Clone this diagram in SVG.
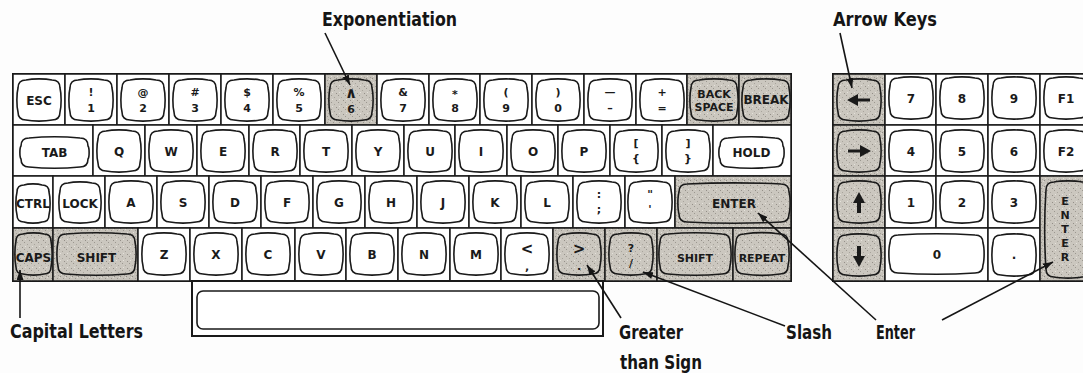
<svg xmlns="http://www.w3.org/2000/svg" xmlns:xlink="http://www.w3.org/1999/xlink" width="1083" height="373" viewBox="0 0 1083 373">
<style>
.cell{fill:#fff;stroke:#1a1a1a;stroke-width:1.5}
.sh{fill:url(#tex)}
.cap{fill:none;stroke:#1a1a1a;stroke-width:1.6}
.capsh{fill:url(#tex2);stroke:#1a1a1a;stroke-width:1.6}
.k{font-family:"DejaVu Sans",sans-serif;font-weight:bold;font-size:12px;text-anchor:middle;fill:#1a1a1a}
.s{font-size:11px}
.b{font-size:15px}
.lbl{font-family:"DejaVu Sans Condensed","DejaVu Sans",sans-serif;font-weight:bold;font-size:19px;fill:#151515}
.lead{stroke:#151515;stroke-width:1.6;fill:none;marker-end:url(#ah)}
.gly{fill:#1a1a1a}
</style>
<defs>
<pattern id="tex" width="6" height="6" patternUnits="userSpaceOnUse">
<rect width="6" height="6" fill="#c6c2ba"/>
<rect x="0" y="0" width="1" height="1" fill="#8f8b84"/>
<rect x="3" y="2" width="1" height="1" fill="#9a968e"/>
<rect x="1" y="4" width="1" height="1" fill="#e2dfd8"/>
<rect x="4" y="5" width="1" height="1" fill="#a39f97"/>
<rect x="5" y="1" width="1" height="1" fill="#dedbd3"/>
</pattern>
<pattern id="tex2" width="7" height="7" patternUnits="userSpaceOnUse">
<rect width="7" height="7" fill="#cbc7bf"/>
<rect x="1" y="1" width="1" height="1" fill="#9b978f"/>
<rect x="4" y="3" width="1" height="1" fill="#a8a49c"/>
<rect x="2" y="5" width="1" height="1" fill="#e4e1da"/>
<rect x="6" y="6" width="1" height="1" fill="#948f88"/>
</pattern>
<marker id="ah" viewBox="0 0 10 7" refX="10" refY="3.5" markerWidth="10" markerHeight="7" markerUnits="userSpaceOnUse" orient="auto">
<path d="M0,0 L10,3.5 L0,7 Z" fill="#151515"/>
</marker>
<path id="c" d="M8,0 C14.7,-1.5 27.3,-1.5 34,0 Q42,0 42,8 C43.5,14 43.5,26 42,32 Q42,40 34,40 C27.3,41.5 14.7,41.5 8,40 Q0,40 0,32 C-1.5,26 -1.5,14 0,8 Q0,0 8,0Z"/>
<path id="c46" d="M8,0 C16.1,-1.5 29.9,-1.5 38,0 Q46,0 46,8 C47.5,14 47.5,26 46,32 Q46,40 38,40 C29.9,41.5 16.1,41.5 8,40 Q0,40 0,32 C-1.5,26 -1.5,14 0,8 Q0,0 8,0Z"/>
<path id="ctab" d="M8,0 C23.5,-1.5 43.5,-1.5 59,0 Q67,0 67,8 C68.5,10 68.5,19 67,21 Q67,29 59,29 C43.5,30.5 23.5,30.5 8,29 Q0,29 0,21 C-1.5,19 -1.5,10 0,8 Q0,0 8,0Z"/>
<path id="chold" d="M8,0 C22,-1.5 41,-1.5 55,0 Q63,0 63,8 C64.5,10 64.5,19 63,21 Q63,29 55,29 C41,30.5 22,30.5 8,29 Q0,29 0,21 C-1.5,19 -1.5,10 0,8 Q0,0 8,0Z"/>
<path id="cctrl" d="M7,0 C11,-1.5 21,-1.5 25,0 Q32,0 32,7 C33.5,13 33.5,24 32,30 Q32,37 25,37 C21,38.5 11,38.5 7,37 Q0,37 0,30 C-1.5,24 -1.5,13 0,7 Q0,0 7,0Z"/>
<path id="clock" d="M8,0 C14,-1.5 26,-1.5 32,0 Q40,0 40,8 C41.5,14 41.5,25 40,31 Q40,39 32,39 C26,40.5 14,40.5 8,39 Q0,39 0,31 C-1.5,25 -1.5,14 0,8 Q0,0 8,0Z"/>
<path id="center" d="M8,0 C38,-1.5 72,-1.5 102,0 Q110,0 110,8 C111.5,13 111.5,25 110,30 Q110,38 102,38 C72,39.5 38,39.5 8,38 Q0,38 0,30 C-1.5,25 -1.5,13 0,8 Q0,0 8,0Z"/>
<path id="ccaps" d="M7,0 C12,-1.5 23,-1.5 28,0 Q35,0 35,7 C36.5,14 36.5,26 35,33 Q35,40 28,40 C23,41.5 12,41.5 7,40 Q0,40 0,33 C-1.5,26 -1.5,14 0,7 Q0,0 7,0Z"/>
<path id="cshl" d="M8,0 C27,-1.5 50,-1.5 69,0 Q77,0 77,8 C78.5,14 78.5,26 77,32 Q77,40 69,40 C50,41.5 27,41.5 8,40 Q0,40 0,32 C-1.5,26 -1.5,14 0,8 Q0,0 8,0Z"/>
<path id="cshr" d="M8,0 C24.5,-1.5 45.5,-1.5 62,0 Q70,0 70,8 C71.5,14 71.5,26 70,32 Q70,40 62,40 C45.5,41.5 24.5,41.5 8,40 Q0,40 0,32 C-1.5,26 -1.5,14 0,8 Q0,0 8,0Z"/>
<path id="crep" d="M8,0 C18,-1.5 34,-1.5 44,0 Q52,0 52,8 C53.5,14 53.5,26 52,32 Q52,40 44,40 C34,41.5 18,41.5 8,40 Q0,40 0,32 C-1.5,26 -1.5,14 0,8 Q0,0 8,0Z"/>
<path id="czero" d="M8,0 C32,-1.5 61,-1.5 85,0 Q93,0 93,8 C94.5,13 94.5,25 93,30 Q93,38 85,38 C61,39.5 32,39.5 8,38 Q0,38 0,30 C-1.5,25 -1.5,13 0,8 Q0,0 8,0Z"/>
<path id="cnent" d="M8,0 C15,-1.5 29,-1.5 36,0 Q44,0 44,8 C45.5,30 45.5,65 44,87 Q44,95 36,95 C29,96.5 15,96.5 8,95 Q0,95 0,87 C-1.5,65 -1.5,30 0,8 Q0,0 8,0Z"/>
</defs>
<rect width="1083" height="373" fill="#fdfdfd"/>

<!-- Main keyboard -->
<g id="main-keyboard">
<rect x="13" y="74" width="778" height="207" fill="#fff" stroke="#1a1a1a" stroke-width="2"/>
<g id="row1">
<g id="key-esc"><rect class="cell" x="13" y="74" width="52" height="51"/><use href="#c" class="cap" x="18" y="80"/><text class="k" x="39" y="104.5">ESC</text></g>
<g id="key-1"><rect class="cell" x="65" y="74" width="52" height="51"/><use href="#c" class="cap" x="70" y="80"/><text class="k s" x="91" y="96">!</text><text class="k s" x="91" y="112">1</text></g>
<g id="key-2"><rect class="cell" x="117" y="74" width="52" height="51"/><use href="#c" class="cap" x="122" y="80"/><text class="k s" x="143" y="96">@</text><text class="k s" x="143" y="112">2</text></g>
<g id="key-3"><rect class="cell" x="169" y="74" width="52" height="51"/><use href="#c" class="cap" x="174" y="80"/><text class="k s" x="195" y="96">#</text><text class="k s" x="195" y="112">3</text></g>
<g id="key-4"><rect class="cell" x="221" y="74" width="52" height="51"/><use href="#c" class="cap" x="226" y="80"/><text class="k s" x="247" y="96">$</text><text class="k s" x="247" y="112">4</text></g>
<g id="key-5"><rect class="cell" x="273" y="74" width="52" height="51"/><use href="#c" class="cap" x="278" y="80"/><text class="k s" x="299" y="96">%</text><text class="k s" x="299" y="112">5</text></g>
<g id="key-6"><rect class="cell sh" x="325" y="74" width="52" height="51"/><use href="#c" class="capsh" x="330" y="80"/><text class="k" x="351" y="98" style="font-size:15px">∧</text><text class="k s" x="351" y="113">6</text></g>
<g id="key-7"><rect class="cell" x="377" y="74" width="52" height="51"/><use href="#c" class="cap" x="382" y="80"/><text class="k s" x="403" y="96">&amp;</text><text class="k s" x="403" y="112">7</text></g>
<g id="key-8"><rect class="cell" x="429" y="74" width="51" height="51"/><use href="#c" class="cap" x="434" y="80"/><text class="k s" x="455" y="98">*</text><text class="k s" x="455" y="112">8</text></g>
<g id="key-9"><rect class="cell" x="480" y="74" width="52" height="51"/><use href="#c" class="cap" x="485" y="80"/><text class="k s" x="506" y="96">(</text><text class="k s" x="506" y="112">9</text></g>
<g id="key-0"><rect class="cell" x="532" y="74" width="52" height="51"/><use href="#c" class="cap" x="537" y="80"/><text class="k s" x="558" y="96">)</text><text class="k s" x="558" y="112">0</text></g>
<g id="key-minus"><rect class="cell" x="584" y="74" width="52" height="51"/><use href="#c" class="cap" x="589" y="80"/><text class="k s" x="610" y="96">—</text><text class="k s" x="610" y="112">–</text></g>
<g id="key-equals"><rect class="cell" x="636" y="74" width="51" height="51"/><use href="#c" class="cap" x="641" y="80"/><text class="k s" x="662" y="96">+</text><text class="k s" x="662" y="112">=</text></g>
<g id="key-backspace"><rect class="cell sh" x="687" y="74" width="52" height="51"/><use href="#c46" class="capsh" x="691" y="80"/><text class="k s" x="714" y="98">BACK</text><text class="k s" x="714" y="111">SPACE</text></g>
<g id="key-break"><rect class="cell sh" x="739" y="74" width="52" height="51"/><use href="#c46" class="capsh" x="743" y="80"/><text class="k" x="766" y="104">BREAK</text></g>
</g>
<g id="row2">
<g id="key-tab"><rect class="cell" x="13" y="125" width="80" height="51"/><use href="#ctab" class="cap" x="21" y="138"/><text class="k" x="54.5" y="157">TAB</text></g>
<g id="key-q"><rect class="cell" x="93" y="125" width="52" height="51"/><use href="#c" class="cap" x="98" y="131"/><text class="k" x="119" y="155.5">Q</text></g>
<g id="key-w"><rect class="cell" x="145" y="125" width="52" height="51"/><use href="#c" class="cap" x="150" y="131"/><text class="k" x="171" y="155.5">W</text></g>
<g id="key-e"><rect class="cell" x="197" y="125" width="52" height="51"/><use href="#c" class="cap" x="202" y="131"/><text class="k" x="223" y="155.5">E</text></g>
<g id="key-r"><rect class="cell" x="249" y="125" width="51" height="51"/><use href="#c" class="cap" x="254" y="131"/><text class="k" x="275" y="155.5">R</text></g>
<g id="key-t"><rect class="cell" x="300" y="125" width="52" height="51"/><use href="#c" class="cap" x="305" y="131"/><text class="k" x="326" y="155.5">T</text></g>
<g id="key-y"><rect class="cell" x="352" y="125" width="52" height="51"/><use href="#c" class="cap" x="357" y="131"/><text class="k" x="378" y="155.5">Y</text></g>
<g id="key-u"><rect class="cell" x="404" y="125" width="51" height="51"/><use href="#c" class="cap" x="409" y="131"/><text class="k" x="430" y="155.5">U</text></g>
<g id="key-i"><rect class="cell" x="455" y="125" width="52" height="51"/><use href="#c" class="cap" x="460" y="131"/><text class="k" x="481" y="155.5">I</text></g>
<g id="key-o"><rect class="cell" x="507" y="125" width="51" height="51"/><use href="#c" class="cap" x="512" y="131"/><text class="k" x="533" y="155.5">O</text></g>
<g id="key-p"><rect class="cell" x="558" y="125" width="52" height="51"/><use href="#c" class="cap" x="563" y="131"/><text class="k" x="584" y="155.5">P</text></g>
<g id="key-lbracket"><rect class="cell" x="610" y="125" width="52" height="51"/><use href="#c" class="cap" x="615" y="131"/><text class="k s" x="636" y="147">[</text><text class="k s" x="636" y="162">{</text></g>
<g id="key-rbracket"><rect class="cell" x="662" y="125" width="51" height="51"/><use href="#c" class="cap" x="667" y="131"/><text class="k s" x="688" y="147">]</text><text class="k s" x="688" y="162">}</text></g>
<g id="key-hold"><rect class="cell" x="713" y="125" width="78" height="51"/><use href="#chold" class="cap" x="720" y="138"/><text class="k" x="751.5" y="157">HOLD</text></g>
</g>
<g id="row3">
<g id="key-ctrl"><rect class="cell" x="13" y="176" width="40" height="52"/><use href="#cctrl" class="cap" x="17" y="185"/><text class="k" x="33" y="208">CTRL</text></g>
<g id="key-lock"><rect class="cell" x="53" y="176" width="52" height="52"/><use href="#clock" class="cap" x="60" y="183"/><text class="k" x="80" y="208">LOCK</text></g>
<g id="key-a"><rect class="cell" x="105" y="176" width="52" height="52"/><use href="#c" class="cap" x="110" y="182"/><text class="k" x="131" y="206.5">A</text></g>
<g id="key-s"><rect class="cell" x="157" y="176" width="52" height="52"/><use href="#c" class="cap" x="162" y="182"/><text class="k" x="183" y="206.5">S</text></g>
<g id="key-d"><rect class="cell" x="209" y="176" width="52" height="52"/><use href="#c" class="cap" x="214" y="182"/><text class="k" x="235" y="206.5">D</text></g>
<g id="key-f"><rect class="cell" x="261" y="176" width="52" height="52"/><use href="#c" class="cap" x="266" y="182"/><text class="k" x="287" y="206.5">F</text></g>
<g id="key-g"><rect class="cell" x="313" y="176" width="52" height="52"/><use href="#c" class="cap" x="318" y="182"/><text class="k" x="339" y="206.5">G</text></g>
<g id="key-h"><rect class="cell" x="365" y="176" width="52" height="52"/><use href="#c" class="cap" x="370" y="182"/><text class="k" x="391" y="206.5">H</text></g>
<g id="key-j"><rect class="cell" x="417" y="176" width="52" height="52"/><use href="#c" class="cap" x="422" y="182"/><text class="k" x="443" y="206.5">J</text></g>
<g id="key-k"><rect class="cell" x="469" y="176" width="52" height="52"/><use href="#c" class="cap" x="474" y="182"/><text class="k" x="495" y="206.5">K</text></g>
<g id="key-l"><rect class="cell" x="521" y="176" width="52" height="52"/><use href="#c" class="cap" x="526" y="182"/><text class="k" x="547" y="206.5">L</text></g>
<g id="key-semicolon"><rect class="cell" x="573" y="176" width="52" height="52"/><use href="#c" class="cap" x="578" y="182"/><text class="k s" x="599" y="198">:</text><text class="k s" x="599" y="213">;</text></g>
<g id="key-quote"><rect class="cell" x="625" y="176" width="50" height="52"/><use href="#c" class="cap" x="629" y="182"/><text class="k s" x="650" y="198">"</text><text class="k s" x="650" y="213">'</text></g>
<g id="key-enter"><rect class="cell sh" x="675" y="176" width="116" height="52"/><use href="#center" class="capsh" x="679" y="184"/><text class="k" x="734" y="207.5">ENTER</text></g>
</g>
<g id="row4">
<g id="key-caps"><rect class="cell sh" x="13" y="228" width="40" height="53"/><use href="#ccaps" class="capsh" x="16" y="234"/><text class="k" x="33.5" y="262">CAPS</text></g>
<g id="key-shift-l"><rect class="cell sh" x="53" y="228" width="85" height="53"/><use href="#cshl" class="capsh" x="58" y="234"/><text class="k" x="96.5" y="262">SHIFT</text></g>
<g id="key-z"><rect class="cell" x="138" y="228" width="52" height="53"/><use href="#c" class="cap" x="143" y="234"/><text class="k" x="164" y="258.5">Z</text></g>
<g id="key-x"><rect class="cell" x="190" y="228" width="52" height="53"/><use href="#c" class="cap" x="195" y="234"/><text class="k" x="216" y="258.5">X</text></g>
<g id="key-c"><rect class="cell" x="242" y="228" width="53" height="53"/><use href="#c" class="cap" x="247" y="234"/><text class="k" x="268" y="258.5">C</text></g>
<g id="key-v"><rect class="cell" x="295" y="228" width="51" height="53"/><use href="#c" class="cap" x="300" y="234"/><text class="k" x="321" y="258.5">V</text></g>
<g id="key-b"><rect class="cell" x="346" y="228" width="52" height="53"/><use href="#c" class="cap" x="351" y="234"/><text class="k" x="372" y="258.5">B</text></g>
<g id="key-n"><rect class="cell" x="398" y="228" width="52" height="53"/><use href="#c" class="cap" x="403" y="234"/><text class="k" x="424" y="258.5">N</text></g>
<g id="key-m"><rect class="cell" x="450" y="228" width="51" height="53"/><use href="#c" class="cap" x="455" y="234"/><text class="k" x="476" y="258.5">M</text></g>
<g id="key-less"><rect class="cell" x="501" y="228" width="52" height="53"/><use href="#c" class="cap" x="506" y="234"/><text class="k b" x="527" y="254">&lt;</text><text class="k s" x="527" y="270">,</text></g>
<g id="key-greater"><rect class="cell sh" x="553" y="228" width="52" height="53"/><use href="#c" class="capsh" x="558" y="234"/><text class="k b" x="579" y="254">&gt;</text><text class="k s" x="579" y="270">.</text></g>
<g id="key-slash"><rect class="cell sh" x="605" y="228" width="52" height="53"/><use href="#c" class="capsh" x="610" y="234"/><text class="k s" x="631" y="252">?</text><text class="k s" x="631" y="267">/</text></g>
<g id="key-shift-r"><rect class="cell sh" x="657" y="228" width="76" height="53"/><use href="#cshr" class="capsh" x="660" y="234"/><text class="k s" x="695" y="262">SHIFT</text></g>
<g id="key-repeat"><rect class="cell sh" x="733" y="228" width="58" height="53"/><use href="#crep" class="capsh" x="736" y="234"/><text class="k s" x="762" y="262">REPEAT</text></g>
</g>
<g id="key-space">
<rect x="192" y="281" width="411" height="55" fill="#fff" stroke="#1a1a1a" stroke-width="2"/>
<rect x="197" y="291" width="402" height="38" rx="6" class="cap"/>
</g>
</g>

<!-- Numeric pad -->
<g id="numpad">
<rect x="833" y="74" width="260" height="207" fill="#fff" stroke="#1a1a1a" stroke-width="2"/>
<g id="key-left"><rect class="cell sh" x="833" y="74" width="52" height="51"/><use href="#c" class="capsh" x="838" y="80"/><polygon class="gly" points="847,100 858,94 858,98.5 870,98.5 870,101.5 858,101.5 858,106"/></g>
<g id="key-right"><rect class="cell sh" x="833" y="125" width="52" height="51"/><use href="#c" class="capsh" x="838" y="131"/><polygon class="gly" points="871,151 860,145 860,149.5 848,149.5 848,152.5 860,152.5 860,157"/></g>
<g id="key-up"><rect class="cell sh" x="833" y="176" width="52" height="52"/><use href="#c" class="capsh" x="838" y="182"/><polygon class="gly" points="859,192 865,203 861,203 861,213 857,213 857,203 853,203"/></g>
<g id="key-down"><rect class="cell sh" x="833" y="228" width="52" height="53"/><use href="#c" class="capsh" x="838" y="235"/><polygon class="gly" points="859,267 865,256 861,256 861,246 857,246 857,256 853,256"/></g>
<g id="key-n7"><rect class="cell" x="885" y="74" width="51" height="51"/><use href="#c" class="cap" x="890" y="78"/><text class="k" x="911" y="102.5">7</text></g>
<g id="key-n8"><rect class="cell" x="936" y="74" width="52" height="51"/><use href="#c" class="cap" x="941" y="78"/><text class="k" x="962" y="102.5">8</text></g>
<g id="key-n9"><rect class="cell" x="988" y="74" width="52" height="51"/><use href="#c" class="cap" x="993" y="78"/><text class="k" x="1014" y="102.5">9</text></g>
<g id="key-f1"><rect class="cell" x="1040" y="74" width="52" height="51"/><use href="#c" class="cap" x="1045" y="78"/><text class="k" x="1066" y="102.5">F1</text></g>
<g id="key-n4"><rect class="cell" x="885" y="125" width="51" height="51"/><use href="#c" class="cap" x="890" y="131"/><text class="k" x="911" y="155.5">4</text></g>
<g id="key-n5"><rect class="cell" x="936" y="125" width="52" height="51"/><use href="#c" class="cap" x="941" y="131"/><text class="k" x="962" y="155.5">5</text></g>
<g id="key-n6"><rect class="cell" x="988" y="125" width="52" height="51"/><use href="#c" class="cap" x="993" y="131"/><text class="k" x="1014" y="155.5">6</text></g>
<g id="key-f2"><rect class="cell" x="1040" y="125" width="52" height="51"/><use href="#c" class="cap" x="1045" y="131"/><text class="k" x="1066" y="155.5">F2</text></g>
<g id="key-n1"><rect class="cell" x="885" y="176" width="51" height="52"/><use href="#c" class="cap" x="890" y="182"/><text class="k" x="911" y="206.5">1</text></g>
<g id="key-n2"><rect class="cell" x="936" y="176" width="52" height="52"/><use href="#c" class="cap" x="941" y="182"/><text class="k" x="962" y="206.5">2</text></g>
<g id="key-n3"><rect class="cell" x="988" y="176" width="52" height="52"/><use href="#c" class="cap" x="993" y="182"/><text class="k" x="1014" y="206.5">3</text></g>
<g id="key-n0"><rect class="cell" x="885" y="228" width="103" height="53"/><use href="#czero" class="cap" x="890" y="235"/><text class="k" x="937" y="258.5">0</text></g>
<g id="key-ndot"><rect class="cell" x="988" y="228" width="52" height="53"/><use href="#c" class="cap" x="993" y="235"/><text class="k" x="1014" y="258.5">.</text></g>
<g id="key-nenter"><rect class="cell sh" x="1040" y="176" width="52" height="105"/><use href="#cnent" class="capsh" x="1046" y="182"/>
<text class="k s" x="1065" y="205">E</text><text class="k s" x="1065" y="219">N</text><text class="k s" x="1065" y="233">T</text><text class="k s" x="1065" y="247">E</text><text class="k s" x="1065" y="261">R</text></g>
</g>

<!-- Connectors -->
<g id="connectors">
<line class="lead" x1="325" y1="33" x2="350" y2="85"/>
<line class="lead" x1="840" y1="33" x2="852" y2="88"/>
<line class="lead" x1="20" y1="318" x2="20" y2="270"/>
<line class="lead" x1="621" y1="318" x2="587" y2="265"/>
<line class="lead" x1="785" y1="326" x2="643" y2="272"/>
<line class="lead" x1="876" y1="320" x2="758" y2="213"/>
<line class="lead" x1="942" y1="320" x2="1053" y2="262"/>
</g>

<!-- Labels -->
<g id="labels">
<text class="lbl" x="322" y="26" textLength="135" lengthAdjust="spacingAndGlyphs">Exponentiation</text>
<text class="lbl" x="833" y="26" textLength="104" lengthAdjust="spacingAndGlyphs">Arrow Keys</text>
<text class="lbl" x="10" y="338" textLength="133" lengthAdjust="spacingAndGlyphs">Capital Letters</text>
<text class="lbl" x="619" y="339" textLength="64" lengthAdjust="spacingAndGlyphs">Greater</text>
<text class="lbl" x="620" y="369" textLength="82" lengthAdjust="spacingAndGlyphs">than Sign</text>
<text class="lbl" x="786" y="339" textLength="46" lengthAdjust="spacingAndGlyphs">Slash</text>
<text class="lbl" x="876" y="339" textLength="39" lengthAdjust="spacingAndGlyphs">Enter</text>
</g>
</svg>
